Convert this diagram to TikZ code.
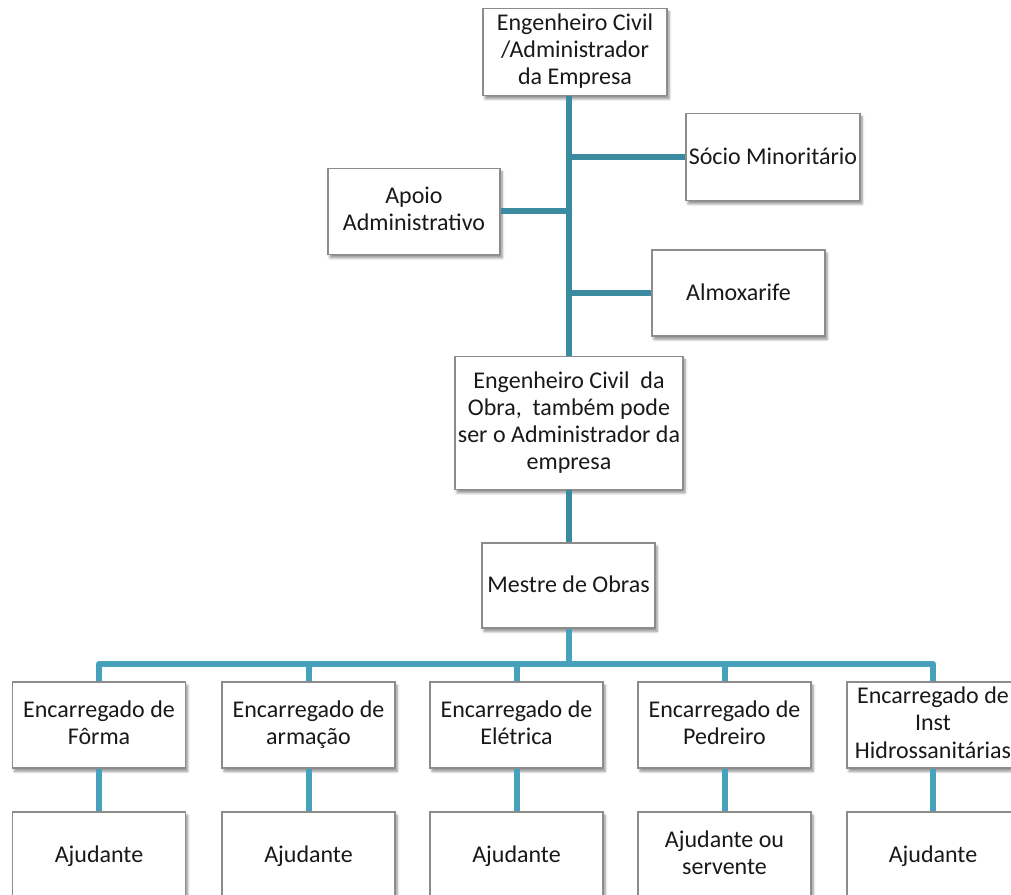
\documentclass[tikz,border=0pt]{standalone}
\usepackage{fontspec}
\setmainfont{Carlito}
\usetikzlibrary{shadows.blur}
\definecolor{linkdark}{HTML}{3B8BA0}
\definecolor{linklight}{HTML}{46A2BA}
\definecolor{boxedge}{HTML}{8C8C8C}
\tikzset{
  orgbox/.style={draw=boxedge, line width=0.9pt, fill=white, align=center,
    inner sep=0pt, font=\fontsize{18}{20.3}\selectfont, text=black!90,
    execute at begin node=\rule{0pt}{0.8em},
    execute at end node=\rule[-0.2em]{0pt}{0pt},
    blur shadow={shadow xshift=1.5pt, shadow yshift=-2.5pt, shadow blur steps=6, shadow opacity=45}},
  upper/.style={draw=linkdark, line width=4.5pt},
  lower/.style={draw=linklight, line width=4.5pt, line join=round},
}
\begin{document}
\begin{tikzpicture}[x=0.75pt, y=-0.75pt]
\useasboundingbox (0,0) rectangle (1011,895);

\coordinate (bus) at (569,664);

% upper management
\node[orgbox, minimum width=184*0.75pt, minimum height=87*0.75pt] (top) at (575,52)
  {Engenheiro Civil\\/Administrador\\da Empresa};
\node[orgbox, minimum width=228*0.75pt, minimum height=133*0.75pt] (obra) at (569,423)
  {Engenheiro Civil\ \ da\\Obra,\ \ também pode\\ser o Administrador da\\empresa};
\node[orgbox, minimum width=174*0.75pt, minimum height=87*0.75pt] (socio) at (773,157)
  {Sócio Minoritário};
\node[orgbox, minimum width=172*0.75pt, minimum height=86*0.75pt] (apoio) at (414,211.5)
  {Apoio\\Administrativo};
\node[orgbox, minimum width=173*0.75pt, minimum height=86*0.75pt] (almox) at (738.5,293)
  {Almoxarife};
\node[orgbox, minimum width=173*0.75pt, minimum height=85*0.75pt] (mestre) at (568.5,585.5)
  {Mestre de Obras};

% foremen
\node[orgbox, minimum width=173*0.75pt, minimum height=86*0.75pt] (e1) at (99,725)
  {Encarregado de\\Fôrma};
\node[orgbox, minimum width=173*0.75pt, minimum height=86*0.75pt] (e2) at (308.5,725)
  {Encarregado de\\armação};
\node[orgbox, minimum width=173*0.75pt, minimum height=86*0.75pt] (e3) at (516.5,725)
  {Encarregado de\\Elétrica};
\node[orgbox, minimum width=173*0.75pt, minimum height=86*0.75pt] (e4) at (724.5,725)
  {Encarregado de\\Pedreiro};
\node[orgbox, minimum width=172*0.75pt, minimum height=86*0.75pt] (e5) at (933,725)
  {Encarregado de\\Inst\\Hidrossanitárias};

% helpers
\node[orgbox, minimum width=173*0.75pt, minimum height=86*0.75pt] (a1) at (99,855) {Ajudante};
\node[orgbox, minimum width=173*0.75pt, minimum height=86*0.75pt] (a2) at (308.5,855) {Ajudante};
\node[orgbox, minimum width=173*0.75pt, minimum height=86*0.75pt] (a3) at (516.5,855) {Ajudante};
\node[orgbox, minimum width=173*0.75pt, minimum height=86*0.75pt] (a4) at (724.5,855) {Ajudante ou\\servente};
\node[orgbox, minimum width=172*0.75pt, minimum height=86*0.75pt] (a5) at (933,855) {Ajudante};

% links of the upper part
\draw[upper] (obra.north |- top.south) -- (obra.north);
\draw[upper] (socio.west) -- (socio.west -| obra.north);
\draw[upper] (apoio.east) -- (apoio.east -| obra.north);
\draw[upper] (almox.west) -- (almox.west -| obra.north);
\draw[upper] (obra.south) -- (obra.south |- mestre.north);

% links of the lower part
\draw[lower] (mestre.south) -- (mestre.south |- bus);
\draw[lower] (e1.north) -- (e1.north |- bus) -- (e5.north |- bus) -- (e5.north);
\foreach \k in {2,3,4} { \draw[lower] (e\k.north) -- (e\k.north |- bus); }
\foreach \k in {1,...,5} { \draw[lower] (e\k.south) -- (a\k.north); }
\end{tikzpicture}
\end{document}
